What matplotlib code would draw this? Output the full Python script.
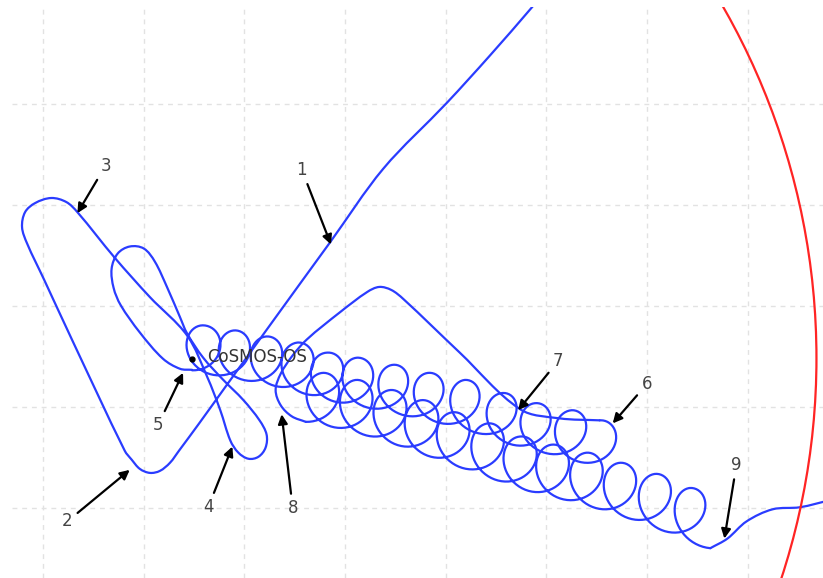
import numpy as np
import matplotlib
matplotlib.use('Agg')
import matplotlib.pyplot as plt
from matplotlib.path import Path
from matplotlib.patches import PathPatch, Circle

# approach leg: arrival (1), swing down (2), back out (3), loop (4) and capture (5)
approach = [
    (494, 506), (486, 496), (444, 448), (401, 401), (338, 336),
    (285, 263), (258, 226), (218, 171), (181, 120), (155, 84),
    (135, 57), (126, 45), (116, 37), (106, 35), (96, 39), (88, 48), (81, 57),
    (29, 166), (1, 226), (-16, 262),
    (-21, 278), (-18, 293), (-8, 302), (8, 307), (23, 303), (34, 293),
    (71, 248), (106, 209), (143, 171),
    (163, 130), (176, 97), (186, 67), (194, 55), (204, 49), (214, 51),
    (221, 60), (222, 73), (215, 87), (199, 107), (179, 127), (159, 149),
    (143, 173), (136, 189), (123, 219), (111, 244), (100, 257), (86, 259),
    (74, 252), (68, 237), (70, 218), (77, 201), (96, 174), (119, 148),
    (136, 138), (148, 137),
]

# first string of orbits (5 -> 6): drift centre of each loop
row1_start = (148, 160)
row1_x = [158, 190, 222, 253, 282, 312, 348, 383, 419, 456, 489, 525, 553]
row1_y = [157.5, 152.5, 146.5, 140.5, 130.5, 125.5, 118.5, 110.5, 103.5, 90.5, 80.5, 73.5, 63.5]
row1_r = (23, 23.5)

# transfer back through 7 and down to 8
transfer = [(513, 89), (474, 98), (414, 154), (358, 207), (346, 216),
            (334, 219), (322, 214), (295, 194), (262, 167), (247, 150),
            (236, 133), (231, 117), (236, 102), (247, 91)]

# second string of orbits (8 -> 9)
row2_start = (261, 111)
row2_x = [278, 311, 345, 376, 407, 442, 474, 506, 540, 573, 608, 642]
row2_y = [108.5, 101.5, 91.5, 81.5, 69.5, 58.5, 45.5, 37.5, 29.5, 19.5, 8.5, -5.5]
row2_end = (663, -14)
row2_r = (24, 25.5)

# departure after 9
departure = [(680, -30), (699, -13), (725, -1), (752, 1), (782, 8)]

orbit_centre = (70.5, 148.5)
orbit_radius = 698

earth = (148, 147.5)
name = 'CoSMOS-OS'

labels = ['1', '2', '3', '4', '5', '6', '7', '8', '9']
label_xy = [(257, 335), (24, -13), (62, 339), (164, 1), (114, 82),
            (600, 123), (512, 146), (248, 0), (689, 43)]
arrow_tip = [(286, 261), (86, 38), (34, 292), (188, 61), (139, 134),
             (566, 84), (472, 97), (237, 93), (677, -30)]


def smooth_path(points):
    # cubic Beziers through the waypoints, handles scaled to each segment
    pts = np.asarray(points, float)
    n = len(pts)
    tang = np.zeros_like(pts)
    for i in range(n):
        d = pts[min(i + 1, n - 1)] - pts[max(i - 1, 0)]
        tang[i] = d / np.hypot(*d)
    verts = [pts[0]]
    codes = [Path.MOVETO]
    for i in range(n - 1):
        h = np.hypot(*(pts[i + 1] - pts[i])) / 3
        verts += [pts[i] + tang[i] * h, pts[i + 1] - tang[i + 1] * h, pts[i + 1]]
        codes += [Path.CURVE4] * 3
    return Path(verts, codes)


def loop_row(start, xs, ys, radii, end=None, steps=90):
    # orbits around a drifting centre; loop k peaks at phase pi + 2 pi k
    rx, ry = radii
    gx = [start[0]] + list(xs)
    gy = [start[1]] + list(ys)
    knots = [0.0] + [np.pi + 2 * np.pi * k for k in range(len(xs))]
    if end is not None:
        gx.append(end[0])
        gy.append(end[1])
        knots.append(2 * np.pi * len(xs))
    phi = np.linspace(0, knots[-1], steps * len(knots))
    cx = np.interp(phi, knots, gx)
    cy = np.interp(phi, knots, gy)
    return np.column_stack([cx + rx * np.sin(phi), cy - ry * np.cos(phi)])


fig = plt.figure(figsize=(8.23, 5.78), dpi=100)
ax = fig.add_axes([12 / 823, 0, 811 / 823, 571 / 578])
ax.set_xlim(-31, 775)
ax.set_ylim(-69, 496)

ax.set_xticks(range(0, 800, 100))
ax.set_yticks(range(0, 500, 100))
ax.tick_params(length=0, labelbottom=False, labelleft=False)
ax.grid(True, linestyle=(0, (3.5, 3.5)), color='#e2e2e2', linewidth=1.0)
ax.set_axisbelow(True)
for s in ax.spines.values():
    s.set_visible(False)

blue = '#2a3cff'
style = dict(fill=False, edgecolor=blue, linewidth=1.6, capstyle='round', joinstyle='round')

ax.add_patch(PathPatch(smooth_path(approach), **style))
row1 = loop_row(row1_start, row1_x, row1_y, row1_r)
ax.plot(row1[:, 0], row1[:, 1], color=blue, lw=1.6, solid_capstyle='round')
row2 = loop_row(row2_start, row2_x, row2_y, row2_r, end=row2_end)
ax.add_patch(PathPatch(smooth_path([tuple(row1[-1])] + transfer + [tuple(row2[0])]), **style))
ax.plot(row2[:, 0], row2[:, 1], color=blue, lw=1.6, solid_capstyle='round')
ax.add_patch(PathPatch(smooth_path([tuple(row2[-1])] + departure), **style))

ax.add_patch(Circle(orbit_centre, orbit_radius, fill=False, edgecolor='#ff2424', linewidth=1.6))

ax.plot(*earth, 'o', color='black', ms=3.5, zorder=5)
ax.text(earth[0] + 15, earth[1] + 2, name, fontsize=12, color='#333333',
        ha='left', va='center', zorder=5)

for lbl, txt, tip in zip(labels, label_xy, arrow_tip):
    ax.annotate(lbl, xy=tip, xytext=txt, ha='center', va='center',
                fontsize=12, color='#444444', zorder=6,
                arrowprops=dict(arrowstyle='-|>', color='black', lw=1.6,
                                shrinkA=2, shrinkB=0, mutation_scale=14))

fig.savefig('out.png', dpi=100)
